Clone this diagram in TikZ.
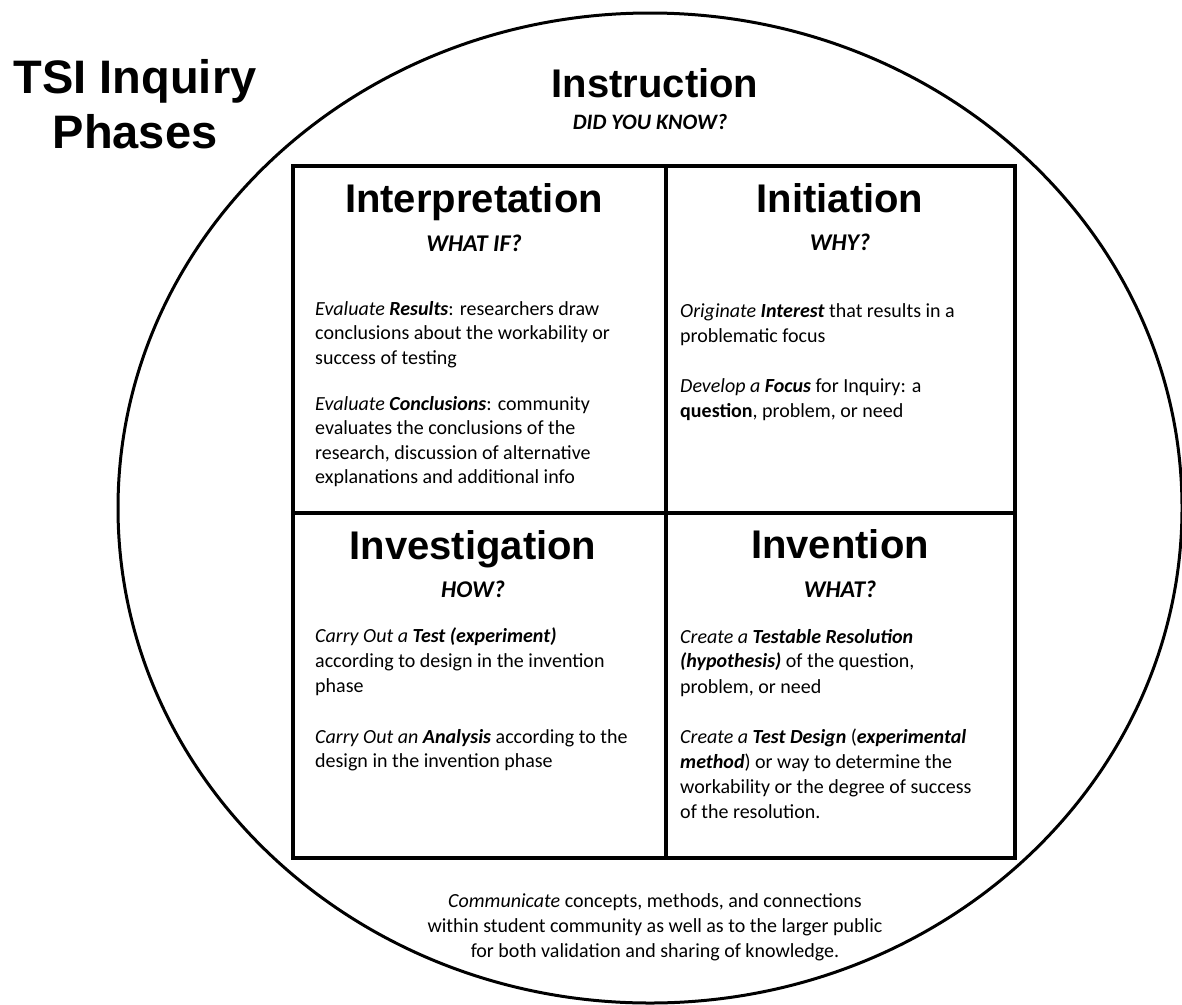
\documentclass[tikz,border=0pt]{standalone}
\usepackage{fontspec}
\setmainfont{Carlito}
\newfontfamily\headfont{Liberation Sans}
\begin{document}
\begin{tikzpicture}[x=1pt,y=-1pt,
  body/.style={anchor=base west, inner sep=0pt, font=\fontsize{20}{24}\selectfont},
  head/.style={anchor=base, inner sep=0pt, font=\headfont\bfseries\fontsize{40}{44}\selectfont},
  ask/.style={anchor=base, inner sep=0pt, font=\bfseries\itshape\fontsize{24}{28}\selectfont},
  centre/.style={anchor=base, inner sep=0pt, font=\fontsize{20}{24}\selectfont},
  ring/.style={line width=3pt},
  grid/.style={line width=3.6pt}]
\useasboundingbox (0,0) rectangle (1182,1004);
\fill[white] (0,0) rectangle (1182,1004);

% outer ring
\draw[ring] (650,508) ellipse [x radius=532pt, y radius=495pt];

% grid
\draw[grid] (293,166) rectangle (1015,858);
\draw[grid] (666,166) -- (666,858);
\draw[grid] (293,513) -- (1015,513);

% title
\node[anchor=base, inner sep=0pt, font=\headfont\bfseries\fontsize{47}{52}\selectfont] (t1) at (135,93) {TSI Inquiry};
\node[anchor=base, inner sep=0pt, font=\headfont\bfseries\fontsize{47}{52}\selectfont] (t2) at (135,148) {Phases};

% instruction
\node[head] (instr) at (655,97) {Instruction};
\node[ask, font=\bfseries\itshape\fontsize{22}{26}\selectfont] (dyk) at (650,129) {DID YOU KNOW?};

% interpretation
\node[head] (interp) at (474,212) {Interpretation};
\node[ask] (whatif) at (474,251) {WHAT IF?};
\foreach \yy/\txt [count=\i] in {
  315/{\textit{Evaluate \textbf{Results}}: researchers draw},
  339.5/{conclusions about the workability or},
  364/{success of testing},
  410/{\textit{Evaluate \textbf{Conclusions}}: community},
  434.5/{evaluates the conclusions of the},
  459/{research, discussion of alternative},
  483.5/{explanations and additional info}}
  \node[body] (ip\i) at (315,\yy) {\txt};

% initiation
\node[head] (init) at (840,212) {Initiation};
\node[ask] (why) at (840,250) {WHY?};
\foreach \yy/\txt [count=\i] in {
  317/{\textit{Originate \textbf{Interest}} that results in a},
  342/{problematic focus},
  392/{\textit{Develop a \textbf{Focus}} for Inquiry: a},
  417/{\textbf{question}, problem, or need}}
  \node[body] (in\i) at (680,\yy) {\txt};

% investigation
\node[head] (invest) at (473,559) {Investigation};
\node[ask] (how) at (473,597) {HOW?};
\foreach \yy/\txt [count=\i] in {
  642/{\textit{Carry Out a \textbf{Test (experiment)}}},
  667/{according to design in the invention},
  692/{phase},
  743/{\textit{Carry Out an \textbf{Analysis}} according to the},
  767.5/{design in the invention phase}}
  \node[body] (iv\i) at (315,\yy) {\txt};

% invention
\node[head] (invent) at (840,558) {Invention};
\node[ask] (what) at (840,597) {WHAT?};
\foreach \yy/\txt [count=\i] in {
  643/{\textit{Create a \textbf{Testable Resolution}}},
  667.5/{\textit{\textbf{(hypothesis)}} of the question,},
  693/{problem, or need},
  743/{\textit{Create a \textbf{Test Design}} (\textit{\textbf{experimental}}},
  768/{\textit{\textbf{method}}) or way to determine the},
  793/{workability or the degree of success},
  818/{of the resolution.}}
  \node[body] (ie\i) at (680,\yy) {\txt};

% communicate
\node[centre] (c1) at (655,907) {\textit{Communicate} concepts, methods, and connections};
\node[centre] (c2) at (655,932) {within student community as well as to the larger public};
\node[centre] (c3) at (655,957) {for both validation and sharing of knowledge.};
\end{tikzpicture}
\end{document}
